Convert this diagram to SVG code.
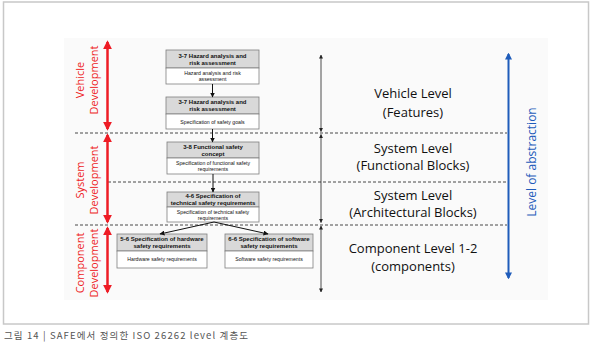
<svg xmlns="http://www.w3.org/2000/svg" width="600" height="347" viewBox="0 0 600 347">
<style>
.frame{fill:#fff;stroke:#c8c8c8;stroke-width:1.5}
.hdr{fill:#d9d9d9;stroke:#7f7f7f;stroke-width:0.8}
.body{fill:#fff;stroke:#7f7f7f;stroke-width:0.8}
.ht{font-family:"Liberation Sans",Arial,sans-serif;font-weight:bold;font-size:6px;fill:#111;text-anchor:middle}
.bt{font-family:"Liberation Sans",Arial,sans-serif;font-size:5.2px;fill:#111;text-anchor:middle}
.lvl{font-family:"Open Sans","Noto Sans",sans-serif;font-size:13px;fill:#111;text-anchor:middle}
.red{font-family:"Open Sans","Noto Sans",sans-serif;font-size:11px;fill:#ee1c25;text-anchor:middle}
.dash{stroke:#333;stroke-width:0.9;stroke-dasharray:3,2;fill:none}
.conn{stroke:#111;stroke-width:1;fill:none}
.redarr{stroke:#ee1c25;stroke-width:2.5;fill:none}
.blk{stroke:#222;stroke-width:0.8;fill:none}
</style>
<defs>
<marker id="ah" viewBox="0 0 10 10" refX="9" refY="5" markerWidth="5" markerHeight="5" orient="auto-start-reverse" markerUnits="userSpaceOnUse"><path d="M0,0 L10,5 L0,10 z" fill="#111"/></marker>
<marker id="ahs" viewBox="0 0 10 10" refX="9" refY="5" markerWidth="4" markerHeight="4" orient="auto-start-reverse" markerUnits="userSpaceOnUse"><path d="M0,0 L10,5 L0,10 z" fill="#222"/></marker>
<marker id="ahr" viewBox="0 0 10 10" refX="8" refY="5" markerWidth="9" markerHeight="9" orient="auto-start-reverse" markerUnits="userSpaceOnUse"><path d="M0,0 L10,5 L0,10 z" fill="#ee1c25"/></marker>
<marker id="ahb" viewBox="0 0 10 10" refX="8" refY="5" markerWidth="7" markerHeight="7" orient="auto-start-reverse" markerUnits="userSpaceOnUse"><path d="M0,0 L10,5 L0,10 z" fill="#1f5cba"/></marker>
</defs>
<rect class="frame" x="3.5" y="2" width="585" height="322"/>
<rect x="64" y="38" width="484" height="262" fill="#fafafa"/>

<g id="dashes">
<line class="dash" x1="75" y1="133" x2="507" y2="133"/>
<line class="dash" x1="108" y1="182" x2="507" y2="182"/>
<line class="dash" x1="75" y1="225" x2="507" y2="225"/>
</g>

<g id="dev-vehicle">
<line class="redarr" x1="107.5" y1="42" x2="107.5" y2="129" marker-start="url(#ahr)" marker-end="url(#ahr)"/>
<text class="red" transform="translate(84,80) rotate(-90)">Vehicle</text>
<text class="red" transform="translate(97.5,80) rotate(-90)">Development</text>
</g>
<g id="dev-system">
<line class="redarr" x1="107.5" y1="135" x2="107.5" y2="222" marker-start="url(#ahr)" marker-end="url(#ahr)"/>
<text class="red" transform="translate(84,180) rotate(-90)">System</text>
<text class="red" transform="translate(97.5,180) rotate(-90)">Development</text>
</g>
<g id="dev-component">
<line class="redarr" x1="107.5" y1="228" x2="107.5" y2="292" marker-start="url(#ahr)" marker-end="url(#ahr)"/>
<text class="red" transform="translate(84,263) rotate(-90)">Component</text>
<text class="red" transform="translate(97.5,263) rotate(-90)">Development</text>
</g>

<g id="box1">
<rect class="hdr" x="166" y="50" width="93" height="18"/>
<rect class="body" x="166" y="68" width="93" height="16"/>
<text class="ht" x="212.5" y="58">3-7 Hazard analysis and</text>
<text class="ht" x="212.5" y="65">risk assessment</text>
<text class="bt" x="212.5" y="75">Hazard analysis and risk</text>
<text class="bt" x="212.5" y="81">assessment</text>
</g>
<g id="box2">
<rect class="hdr" x="166" y="97" width="93" height="17"/>
<rect class="body" x="166" y="114" width="93" height="15"/>
<text class="ht" x="212.5" y="104">3-7 Hazard analysis and</text>
<text class="ht" x="212.5" y="111">risk assessment</text>
<text class="bt" x="212.5" y="123.5">Specification of safety goals</text>
</g>
<g id="box3">
<rect class="hdr" x="167" y="142" width="92" height="16"/>
<rect class="body" x="167" y="158" width="92" height="16"/>
<text class="ht" x="213" y="148.5">3-8 Functional safety</text>
<text class="ht" x="213" y="155.5">concept</text>
<text class="bt" x="213" y="165">Specification of functional safety</text>
<text class="bt" x="213" y="171">requirements</text>
</g>
<g id="box4">
<rect class="hdr" x="167" y="192" width="92" height="15"/>
<rect class="body" x="167" y="207" width="92" height="15"/>
<text class="ht" x="213" y="198">4-6 Specification of</text>
<text class="ht" x="213" y="205">technical safety requirements</text>
<text class="bt" x="213" y="213.5">Specification of technical safety</text>
<text class="bt" x="213" y="219.5">requirements</text>
</g>
<g id="box5">
<rect class="hdr" x="117" y="234" width="90" height="17"/>
<rect class="body" x="117" y="251" width="90" height="17"/>
<text class="ht" x="162" y="241">5-6 Specification of hardware</text>
<text class="ht" x="162" y="248">safety requirements</text>
<text class="bt" x="162" y="261">Hardware safety requirements</text>
</g>
<g id="box6">
<rect class="hdr" x="225" y="234" width="88" height="17"/>
<rect class="body" x="225" y="251" width="88" height="17"/>
<text class="ht" x="269" y="241">6-6 Specification of software</text>
<text class="ht" x="269" y="248">safety requirements</text>
<text class="bt" x="269" y="261">Software safety requirements</text>
</g>

<g id="connectors">
<line class="conn" x1="212.5" y1="84" x2="212.5" y2="97" marker-end="url(#ah)"/>
<line class="conn" x1="212.5" y1="129" x2="212.5" y2="142" marker-end="url(#ah)"/>
<line class="conn" x1="213" y1="174" x2="213" y2="192" marker-end="url(#ah)"/>
<line class="conn" x1="214" y1="222" x2="160" y2="234" marker-end="url(#ah)"/>
<line class="conn" x1="214" y1="222" x2="268" y2="234" marker-end="url(#ah)"/>
</g>

<g id="levels">
<line class="blk" x1="321" y1="55" x2="321" y2="131.5" marker-start="url(#ahs)" marker-end="url(#ahs)"/>
<line class="blk" x1="321" y1="134.5" x2="321" y2="222.5" marker-start="url(#ahs)" marker-end="url(#ahs)"/>
<line class="blk" x1="321" y1="226" x2="321" y2="292" marker-start="url(#ahs)" marker-end="url(#ahs)"/>
<text class="lvl" x="413" y="97.5">Vehicle Level</text>
<text class="lvl" x="413" y="116.5">(Features)</text>
<text class="lvl" x="413" y="152.5">System Level</text>
<text class="lvl" x="413" y="169.5">(Functional Blocks)</text>
<text class="lvl" x="413" y="200">System Level</text>
<text class="lvl" x="413" y="216.5">(Architectural Blocks)</text>
<text class="lvl" x="413" y="252.5">Component Level 1-2</text>
<text class="lvl" x="413" y="271">(components)</text>
</g>

<g id="abstraction">
<line x1="508.5" y1="54" x2="508.5" y2="278" stroke="#1f5cba" stroke-width="2" marker-start="url(#ahb)" marker-end="url(#ahb)"/>
<text transform="translate(536,162) rotate(-90)" font-family="'Open Sans','Noto Sans',sans-serif" font-size="12" fill="#1f5cba" text-anchor="middle">Level of abstraction</text>
</g>

<text x="4" y="339" font-family="'Noto Sans CJK KR','Liberation Sans',sans-serif" font-size="9.5" fill="#555" textLength="244" lengthAdjust="spacing">그림 14 |  SAFE에서 정의한 ISO 26262 level 계층도</text>
</svg>
